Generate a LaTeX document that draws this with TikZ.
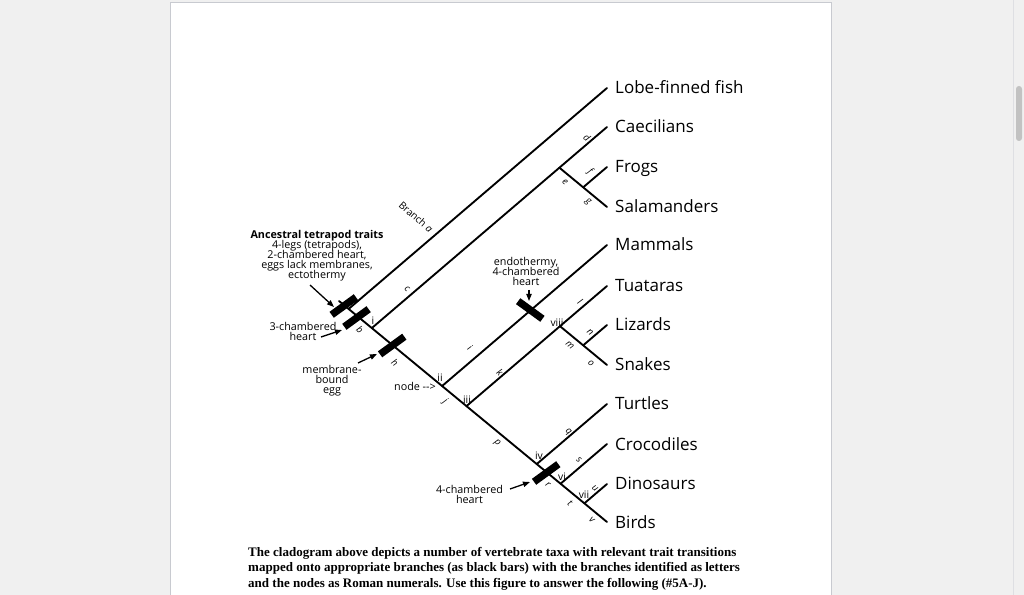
\documentclass[tikz,border=0pt]{standalone}
\usepackage{fontspec}
\setmainfont{Open Sans}
\newfontfamily\capfont{Liberation Serif}
\usetikzlibrary{arrows.meta}
\definecolor{pagegray}{RGB}{240,240,240}
\definecolor{edgegray}{RGB}{200,202,208}
\definecolor{thumbgray}{RGB}{194,194,194}

\begin{document}
\begin{tikzpicture}[x=0.03cm,y=-0.03cm,
    clade/.style={line width=1.6pt,line cap=round},
    trait/.style={fill=black,inner sep=0pt,minimum width=0.9cm,minimum height=0.22cm},
    taxon/.style={anchor=base west,inner sep=0pt,font=\fontsize{14.5}{16}\selectfont},
    brlab/.style={inner sep=0pt,rotate=-41,font=\fontsize{8}{9}\selectfont\itshape},
    nodelab/.style={inner sep=0pt,font=\fontsize{8.8}{9}\selectfont},
    note/.style={inner sep=0pt,align=center,font={\fontsize{9.2}{8.6}\selectfont\lineskiplimit=-5pt}},
    ptr/.style={line width=1.1pt,-{Triangle[length=6pt,width=4.5pt]}}]
  \useasboundingbox (0,0) rectangle (1024,595);
  \fill[pagegray] (0,0) rectangle (1024,595);
  \fill[white] (170.5,2.5) rectangle (831.5,600);
  \draw[edgegray] (170.5,600) -- (170.5,2.5) -- (831.5,2.5) -- (831.5,600);
  \draw[edgegray!60] (1013,0) -- (1013,595);
  \fill[thumbgray,rounded corners=2.5pt] (1016,86) rectangle (1022,141);

  % tips and taxa
  \foreach \n/\y/\t in {fish/88/Lobe-finned fish, caec/127/Caecilians, frog/167/Frogs,
      sala/207/Salamanders, mamm/245/Mammals, tuat/286/Tuataras, liz/325/Lizards,
      snak/365/Snakes, turt/404/Turtles, croc/444/Crocodiles, dino/484/Dinosaurs, bird/522/Birds}{
    \coordinate (\n) at (607,\y);
    \node[taxon] (\n-lab) at (615,\y+6) {\t};
  }

  % internal nodes
  \coordinate (stem) at (339,301);
  \coordinate (root) at (348.7,308.9);
  \coordinate (n1) at (371.9,328);
  \coordinate (ne) at (559.4,167.7);
  \coordinate (nfg) at (583.2,187.3);
  \coordinate (n2) at (442.1,386);
  \coordinate (n3) at (466.5,406.1);
  \coordinate (n8) at (560,326.2);
  \coordinate (nno) at (583.2,345.3);
  \coordinate (n4) at (536.8,464);
  \coordinate (n6) at (560.6,483.7);
  \coordinate (n7) at (584.4,503.3);

  \draw[clade] (stem) -- (bird);
  \draw[clade] (root) -- (fish);
  \draw[clade] (n1) -- (caec);
  \draw[clade] (ne) -- (sala);
  \draw[clade] (nfg) -- (frog);
  \draw[clade] (n2) -- (mamm);
  \draw[clade] (n3) -- (tuat);
  \draw[clade] (n8) -- (snak);
  \draw[clade] (nno) -- (liz);
  \draw[clade] (n4) -- (turt);
  \draw[clade] (n6) -- (croc);
  \draw[clade] (n7) -- (dino);

  % trait bars
  \node[trait,rotate=36] (tr1) at (343.8,306) {};
  \node[trait,rotate=36] (tr2) at (356.5,318) {};
  \node[trait,rotate=36] (tr3) at (392.2,345.5) {};
  \node[trait,rotate=36] (tr4) at (546.2,473) {};
  \node[trait,rotate=-36] (tr5) at (530.3,310) {};

  % branch letters
  \node[brlab,font=\fontsize{8.5}{9}\selectfont] (br-a) at (416,217) {Branch \textit{a}};
  \foreach \l/\x/\y in {b/360/330, c/407/289, d/587/138, e/565/182, f/590/172, g/588/202,
      h/395/363, i/470/348, j/445/402, k/500/372, l/580/302, m/570/345, n/590/332,
      o/591/363, p/497/443, q/568/432, r/548/485, s/579/460, t/570/503, u/595/488, v/592/520}
    \node[brlab] (br-\l) at (\x,\y) {\l};

  % node numerals
  \foreach \r/\x/\y in {i/373/321, ii/440/378, iii/467/400, iv/539/456, vi/562/477,
      vii/584/495, viii/557/323}
    \node[nodelab] (nl-\r) at (\x,\y) {\r};

  % trait notes
  \node[note] (anc) at (317,256) {\textbf{Ancestral tetrapod traits}\\4-legs (tetrapods),\\2-chambered heart,\\eggs lack membranes,\\ectothermy};
  \node[note] (three) at (303,331) {3-chambered\\heart};
  \node[note] (memb) at (332,381) {membrane-\\bound\\egg};
  \node[note] (nodetxt) at (415,386.5) {node -{}-{}>};
  \node[note] (endo) at (526,271.5) {endothermy,\\4-chambered\\heart};
  \node[note] (four) at (469.5,494) {4-chambered\\heart};

  \coordinate (p1) at (310,285); \coordinate (q1) at (334,307);
  \coordinate (p2) at (321,337); \coordinate (q2) at (342,330);
  \coordinate (p3) at (358,363); \coordinate (q3) at (377,354);
  \coordinate (p4) at (529,290); \coordinate (q4) at (529,301);
  \coordinate (p5) at (510,489); \coordinate (q5) at (530,482);
  \draw[ptr] (p1) -- (q1);
  \draw[ptr] (p2) -- (q2);
  \draw[ptr] (p3) -- (q3);
  \draw[ptr] (p4) -- (q4);
  \draw[ptr] (p5) -- (q5);

  \node[anchor=north west,align=left,inner sep=0pt,font=\capfont\bfseries\fontsize{11.1}{13.2}\selectfont] (cap) at (248,547)
    {The cladogram above depicts a number of vertebrate taxa with relevant trait transitions\\
     mapped onto appropriate branches (as black bars) with the branches identified as letters\\
     and the nodes as Roman numerals. Use this figure to answer the following (\#5A-J).};
\end{tikzpicture}
\end{document}
